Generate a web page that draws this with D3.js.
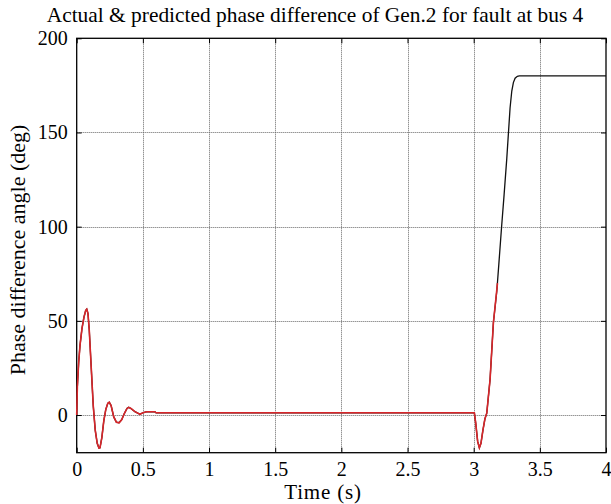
<!DOCTYPE html>
<html><head><meta charset="utf-8">
<script src="https://cdn.jsdelivr.net/npm/d3@7"></script>
<style>body{margin:0;background:#fff;} text{font-family:"Liberation Serif","Times New Roman",serif;fill:#000;}</style>
</head><body>
<svg id="c" width="611" height="504"></svg>
<script>
const titleText = "Actual & predicted phase difference of Gen.2 for fault at bus 4";
const xLabel = "Time (s)";
const yLabel = "Phase difference angle (deg)";
const xTicks = [0, 0.5, 1, 1.5, 2, 2.5, 3, 3.5, 4];
const yTicks = [0, 50, 100, 150, 200];

// Actual phase difference (black)
const actualT = [0,0.005,0.015,0.025,0.04,0.055,0.068,0.076,0.085,0.095,0.11,0.125,0.14,0.155,0.168,0.176,0.19,0.205,0.22,0.235,0.246,0.26,0.28,0.3,0.32,0.34,0.36,0.38,0.393,0.41,0.44,0.478,0.5,0.53,0.59,0.6,3.0,3.005,3.015,3.03,3.043,3.055,3.07,3.085,3.099,3.124,3.149,3.175,3.19,3.21,3.23,3.25,3.262,3.275,3.288,3.30,3.313,3.33,3.345,4.0];
const actualV = [0,15,28,37,46,52,55.5,56.2,54,45,25,5,-8,-15,-17.5,-17.4,-12,-3,3,6.2,6.8,5,-1,-3.8,-4.1,-2.5,0.8,3.5,4.1,3.5,1.8,0.4,1.2,1.75,1.75,1.2,1.2,1.2,-4,-14,-17.4,-15,-8,-2,1,19,49,66,80,99,117,136,149,163,172,176.5,178.8,179.8,180,180];

// Predicted phase difference (red)
const predT = [0,0.005,0.015,0.025,0.04,0.055,0.068,0.076,0.085,0.095,0.11,0.125,0.14,0.155,0.168,0.176,0.19,0.205,0.22,0.235,0.246,0.26,0.28,0.3,0.32,0.34,0.36,0.38,0.393,0.41,0.44,0.478,0.5,0.53,0.59,0.6,3.0,3.005,3.015,3.03,3.043,3.055,3.07,3.085,3.099,3.124,3.149,3.18];
const predV = [0,15,28,37,46,52,55.5,56.2,54,45,25,5,-8,-15,-17.5,-17.4,-12,-3,3,6.2,6.8,5,-1,-3.8,-4.1,-2.5,0.8,3.5,4.1,3.5,1.8,0.4,1.2,1.75,1.75,1.2,1.2,1.2,-4,-14,-17.4,-15,-8,-2,1,19,49,70];

const svg = d3.select("#c");
const L = 76.7, R = 606, T = 38.3, B = 452.7;
const x = d3.scaleLinear().domain([0, 4]).range([L, R]);
const y = d3.scaleLinear().domain([-20, 200]).range([B, T]);

// grid
const g = svg.append("g");
g.selectAll(".gx").data(xTicks.slice(1, -1)).enter().append("line")
  .attr("x1", d => Math.round(x(d)) + 0.5).attr("x2", d => Math.round(x(d)) + 0.5)
  .attr("y1", T).attr("y2", B)
  .attr("stroke", "#666").attr("stroke-width", 1).attr("stroke-dasharray", "1,1");
g.selectAll(".gy").data(yTicks.slice(0, -1)).enter().append("line")
  .attr("y1", d => Math.round(y(d)) + 0.5).attr("y2", d => Math.round(y(d)) + 0.5)
  .attr("x1", L).attr("x2", R)
  .attr("stroke", "#666").attr("stroke-width", 1).attr("stroke-dasharray", "1,1");

// axes (MATLAB style, inward ticks, both sides)
const fs = 20;
const xb = svg.append("g").attr("transform", `translate(0,${B})`)
  .call(d3.axisBottom(x).tickValues(xTicks).tickSizeInner(-5).tickSizeOuter(0).tickPadding(9).tickFormat(d3.format("")));
const xt = svg.append("g").attr("transform", `translate(0,${T})`)
  .call(d3.axisTop(x).tickValues(xTicks).tickSizeInner(-5).tickSizeOuter(0).tickFormat(""));
const yl = svg.append("g").attr("transform", `translate(${L},0)`)
  .call(d3.axisLeft(y).tickValues(yTicks).tickSizeInner(-5).tickSizeOuter(0).tickPadding(9).tickFormat(d3.format("")));
const yr = svg.append("g").attr("transform", `translate(${R},0)`)
  .call(d3.axisRight(y).tickValues(yTicks).tickSizeInner(-5).tickSizeOuter(0).tickFormat(""));
[xb, xt, yl, yr].forEach(a => {
  a.select(".domain").remove();
  a.selectAll("line").attr("stroke", "#000");
  a.selectAll("text").style("font-family", '"Liberation Serif", serif').style("font-size", fs + "px").attr("fill", "#000");
});
xb.selectAll("text").attr("dy", "0.71em");

// box
svg.append("rect").attr("x", L).attr("y", T).attr("width", R - L).attr("height", B - T)
  .attr("fill", "none").attr("stroke", "#000").attr("stroke-width", 1.3);

// lines
const line = d3.line().x(d => x(d[0])).y(d => y(d[1]));
svg.append("path").datum(actualT.map((t, i) => [t, actualV[i]]))
  .attr("d", line).attr("fill", "none").attr("stroke", "#111").attr("stroke-width", 1.3);
svg.append("path").datum(predT.map((t, i) => [t, predV[i]]))
  .attr("d", line).attr("fill", "none").attr("stroke", "#d8262a").attr("stroke-width", 1.6);

// labels
svg.append("text").attr("x", 315).attr("y", 22).attr("text-anchor", "middle")
  .style("font-size", "21.4px").text(titleText);
svg.append("text").attr("x", 323).attr("y", 499).attr("text-anchor", "middle")
  .style("font-size", "21px").style("letter-spacing", "0.8px").text(xLabel);
svg.append("text").attr("transform", `translate(25,250) rotate(-90)`).attr("text-anchor", "middle")
  .style("font-size", "22px").text(yLabel);
</script>
</body></html>
